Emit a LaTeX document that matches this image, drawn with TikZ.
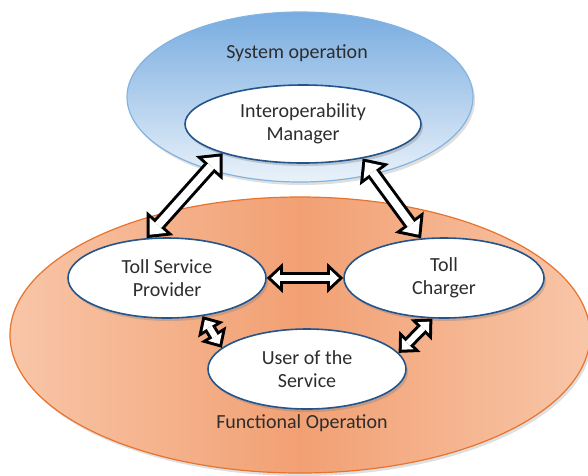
\documentclass[tikz,border=0pt]{standalone}
\usepackage{fontspec}
\setmainfont{Carlito}
\usetikzlibrary{shapes.geometric,arrows.meta,shadows}

\definecolor{sysblue}{RGB}{120,172,224}
\definecolor{syspale}{RGB}{234,242,250}
\definecolor{sysedge}{RGB}{130,180,225}
\definecolor{funcorange}{RGB}{242,160,115}
\definecolor{funcpale}{RGB}{248,198,168}
\definecolor{funcedge}{RGB}{232,115,45}
\definecolor{roleedge}{RGB}{35,85,140}
\definecolor{textgray}{RGB}{45,45,45}

\tikzset{
	zone/.style={ellipse, draw, line width=1.2pt},
	role/.style={ellipse, draw=roleedge, line width=1.6pt, fill=white, minimum width=198pt, minimum height=80pt, align=center, text=textgray, font=\fontsize{20}{23}\selectfont, drop shadow={opacity=0.35, shadow xshift=2pt, shadow yshift=-3pt}},
	caption/.style={text=textgray, font=\fontsize{20}{23}\selectfont},
	big outer/.style={draw=black, line width=14pt, {Triangle[length=20pt,width=36pt,line width=0pt]}-{Triangle[length=20pt,width=36pt,line width=0pt]}},
	big inner/.style={draw=white, line width=8pt, shorten <=4.5pt, shorten >=4.5pt, {Triangle[length=12.5pt,width=22.5pt,line width=0pt]}-{Triangle[length=12.5pt,width=22.5pt,line width=0pt]}},
	small outer/.style={draw=black, line width=12pt, {Triangle[length=16pt,width=30pt,line width=0pt]}-{Triangle[length=16pt,width=30pt,line width=0pt]}},
	small inner/.style={draw=white, line width=6pt, shorten <=4.4pt, shorten >=4.4pt, {Triangle[length=8.6pt,width=16.1pt,line width=0pt]}-{Triangle[length=8.6pt,width=16.1pt,line width=0pt]}}
}

% two-way fat arrow: black outline, white body
\newcommand{\fatlink}[3]{%
	\draw[#1 outer] (#2) -- (#3);
	\draw[#1 inner] (#2) -- (#3);}

\begin{document}
\begin{tikzpicture}[x=1pt, y=-1pt]
	\useasboundingbox (0,0) rectangle (588,475);
	\clip (0,0) rectangle (588,475);

	% operation zones
	\node[zone, draw=funcedge, left color=funcpale, right color=funcpale, middle color=funcorange, minimum width=580pt, minimum height=276pt, drop shadow={opacity=0.25, shadow xshift=2pt, shadow yshift=-3pt}] (func) at (300,335) {};
	\node[zone, draw=sysedge, top color=sysblue, bottom color=syspale, minimum width=346pt, minimum height=170pt, drop shadow={opacity=0.25, shadow xshift=2pt, shadow yshift=-3pt}] (sys) at (300,97) {};
	\node[caption] (syslabel) at (297,53) {System operation};
	\node[caption] (funclabel) at (302,423) {Functional Operation};

	% roles
	\node[role, minimum width=236pt, minimum height=78pt] (im) at (303,124) {Interoperability\\Manager};
	\node[role] (tsp) at (167,278) {Toll Service\\Provider};
	\node[role, minimum width=200pt] (tc) at (444,278) {Toll\\Charger};
	\node[role] (user) at (307,369) {User of the\\Service};

	% links
	\fatlink{big}{im.200}{tsp.117}
	\fatlink{big}{im.330}{tc.120}
	\fatlink{small}{tsp.east}{tc.west}
	\fatlink{small}{tsp.313}{user.166}
	\fatlink{small}{tc.254}{user.10}
\end{tikzpicture}
\end{document}
